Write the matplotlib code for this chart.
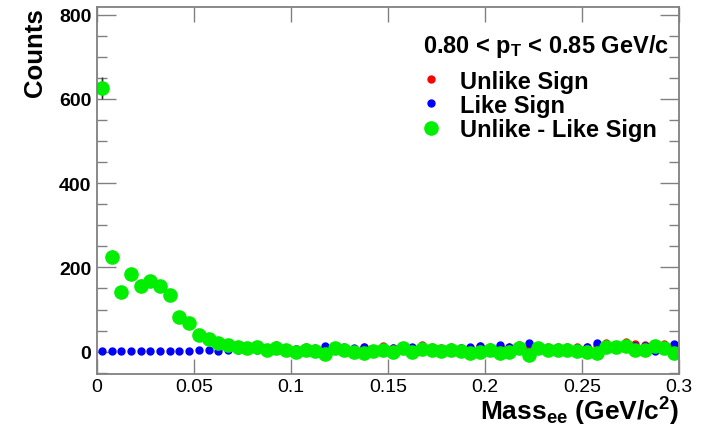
import numpy as np
import matplotlib.pyplot as plt
from matplotlib.ticker import MultipleLocator

plt.rcParams['font.family'] = 'Liberation Sans'
plt.rcParams['mathtext.fontset'] = 'custom'
plt.rcParams['mathtext.rm'] = 'Liberation Sans:bold'
plt.rcParams['mathtext.it'] = 'Liberation Sans:bold'
plt.rcParams['mathtext.bf'] = 'Liberation Sans:bold'

# bin centres, 60 bins of 5 MeV
mass = np.arange(60) * 0.005 + 0.0025

unlike = [626, 226, 144, 185, 159, 169, 157, 136, 85, 70,
          44, 33, 22, 18, 16, 12, 16, 7, 15, 7,
          6, 10, 8, 8, 12, 11, 7, 10, 7, 13,
          8, 14, 9, 15, 10, 9, 11, 9, 9, 13,
          12, 12, 10, 15, 11, 13, 12, 11, 11, 10,
          11, 17, 20, 17, 22, 18, 17, 16, 18, 15]
like = [1, 1, 2, 1, 2, 1, 2, 2, 2, 2,
        5, 3, 1, 3, 5, 4, 5, 3, 6, 3,
        6, 6, 7, 14, 4, 7, 8, 12, 6, 8,
        9, 5, 10, 8, 7, 7, 8, 8, 11, 14,
        8, 15, 11, 6, 20, 5, 8, 6, 8, 8,
        12, 21, 10, 7, 9, 14, 13, 2, 10, 19]
signal = [625, 225, 142, 184, 157, 168, 155, 134, 83, 68,
          39, 30, 21, 15, 11, 8, 11, 4, 9, 4,
          0, 4, 1, -6, 8, 4, -1, -2, 1, 5,
          -1, 9, -1, 7, 3, 2, 3, 1, -2, -1,
          4, -3, -1, 9, -9, 8, 4, 5, 3, 2,
          -1, -4, 10, 10, 13, 4, 4, 14, 8, -4]

unlike = np.array(unlike, float)
like = np.array(like, float)
signal = np.array(signal, float)

fig = plt.figure(figsize=(7.01, 4.31), dpi=100)
ax = fig.add_axes([97 / 701, 1 - 375 / 431, 582 / 701, 367 / 431])

eb = dict(ls='', elinewidth=1, ecolor='#333333', capsize=0)
h1 = ax.errorbar(mass, unlike, yerr=np.sqrt(unlike), marker='o', ms=5,
                 color='#ff0000', mec='#ff0000', **eb)
h2 = ax.errorbar(mass, like, yerr=np.sqrt(like), marker='o', ms=5,
                 color='#0000ff', mec='#0000ff', **eb)
h3 = ax.errorbar(mass, signal, yerr=np.sqrt(unlike + like), marker='o', ms=9.5,
                 color='#00ee00', mec='#00ee00', **eb)

ax.set_xlim(0, 0.3)
ax.set_ylim(-53, 818)
ax.yaxis.set_major_locator(MultipleLocator(200))
ax.yaxis.set_minor_locator(MultipleLocator(50))
ax.set_xticks([0, 0.05, 0.1, 0.15, 0.2, 0.25, 0.3])
ax.set_xticklabels(['0', '0.05', '0.1', '0.15', '0.2', '0.25', '0.3'])

for s in ax.spines.values():
    s.set_color('#808080')
    s.set_linewidth(1.3)
ax.tick_params(which='both', direction='in', top=True, right=True, color='#808080', width=1)
ax.tick_params(axis='x', which='major', length=11, labelsize=14, pad=3)
ax.tick_params(axis='y', which='major', length=14, labelsize=14, pad=4)
ax.tick_params(axis='y', which='minor', length=7)
for lab in ax.get_yticklabels():
    lab.set_fontweight('bold')

fig.text(35 / 701, 1 - 8 / 431, 'Counts', rotation=90, ha='center', va='top',
         fontsize=18.5, fontweight='bold')
fig.text(679 / 701, 1 - 421 / 431, 'Mass$_{ee}$ (GeV/c$^{2}$)', ha='right', va='baseline',
         fontsize=19, fontweight='bold')

# header of the legend
fig.text(423 / 701, 1 - 47 / 431, '0.80 < p$_{T}$ < 0.85 GeV/c', ha='left', va='center',
         fontsize=17, fontweight='bold')

leg = ax.legend([h1[0], h2[0], h3[0]], ['Unlike Sign', 'Like Sign', 'Unlike - Like Sign'],
                loc='upper left', bbox_to_anchor=(405 / 701, 1 - 54 / 431),
                bbox_transform=fig.transFigure, frameon=False,
                prop=dict(size=17, weight='bold'),
                handlelength=0.8, handletextpad=0.85, labelspacing=0.05, borderpad=0.2)

fig.savefig('out.png', dpi=100)
